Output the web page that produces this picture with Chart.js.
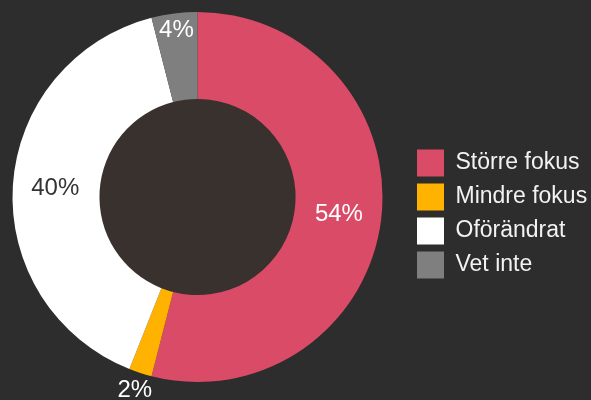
<!DOCTYPE html>
<html>
<head>
<meta charset="utf-8">
<script src="https://cdn.jsdelivr.net/npm/chart.js@4/dist/chart.umd.min.js"></script>
<style>
  html, body { margin: 0; padding: 0; background: #2d2d2d; }
  #wrap { width: 591px; height: 400px; position: relative; }
</style>
</head>
<body>
<div id="wrap"><canvas id="c"></canvas></div>
<script>
const categories = ['Större fokus', 'Mindre fokus', 'Oförändrat', 'Vet inte'];
const values = [54, 2, 40, 4];
const sliceColors = ['#da4b68', '#ffb300', '#ffffff', '#7f7f7f'];
const labelColors = ['#ffffff', '#ffffff', '#333333', '#ffffff'];
const valueLabels = ['54%', '2%', '40%', '4%'];

const centerFill = {
  id: 'centerFill',
  beforeDatasetsDraw(chart) {
    const arc = chart.getDatasetMeta(0).data[0];
    if (!arc) return;
    const ctx = chart.ctx;
    ctx.save();
    ctx.fillStyle = '#38312d';
    ctx.beginPath();
    ctx.arc(arc.x, arc.y, arc.innerRadius + 0.5, 0, Math.PI * 2);
    ctx.fill();
    ctx.restore();
  }
};

const sliceLabels = {
  id: 'sliceLabels',
  afterDatasetsDraw(chart) {
    const ctx = chart.ctx;
    const meta = chart.getDatasetMeta(0);
    ctx.save();
    ctx.font = '24px "Liberation Sans", Arial, sans-serif';
    ctx.textAlign = 'center';
    ctx.textBaseline = 'middle';
    meta.data.forEach((arc, i) => {
      const v = values[i];
      const mid = (arc.startAngle + arc.endAngle) / 2;
      let r;
      if (v < 3) r = arc.outerRadius + 18;
      else if (v < 5) r = arc.outerRadius - 17;
      else r = (arc.innerRadius + arc.outerRadius) / 2 + 1;
      const x = arc.x + Math.cos(mid) * r;
      const y = arc.y + Math.sin(mid) * r;
      ctx.fillStyle = labelColors[i];
      ctx.fillText(valueLabels[i], x, y);
    });
    ctx.restore();
  }
};

const legendPlace = {
  id: 'legendPlace',
  beforeLayout(chart) {
    const lg = chart.legend;
    if (lg && !lg._patched) {
      const f = lg.fit;
      lg.fit = function () { f.call(this); this.width = 196; };
      lg._patched = true;
    }
  },
  afterLayout(chart) {
    const lg = chart.legend;
    if (lg) { lg.left += 15; lg.right += 15; lg.top += 17; lg.bottom += 17; }
  }
};

new Chart(document.getElementById('c'), {
  type: 'doughnut',
  data: {
    labels: categories,
    datasets: [{
      data: values,
      backgroundColor: sliceColors,
      borderWidth: 0
    }]
  },
  options: {
    responsive: true,
    maintainAspectRatio: false,
    animation: false,
    events: [],
    cutout: '53%',
    rotation: 0,
    layout: { padding: { top: 12, bottom: 18, left: 0, right: 0 } },
    plugins: {
      tooltip: { enabled: false },
      legend: {
        position: 'right',
        align: 'center',
        labels: {
          boxWidth: 27,
          boxHeight: 27,
          padding: 7,
          color: '#f2f2f2',
          font: { family: '"Liberation Sans", Arial, sans-serif', size: 23 }
        }
      }
    }
  },
  plugins: [centerFill, sliceLabels, legendPlace]
});
</script>
</body>
</html>
